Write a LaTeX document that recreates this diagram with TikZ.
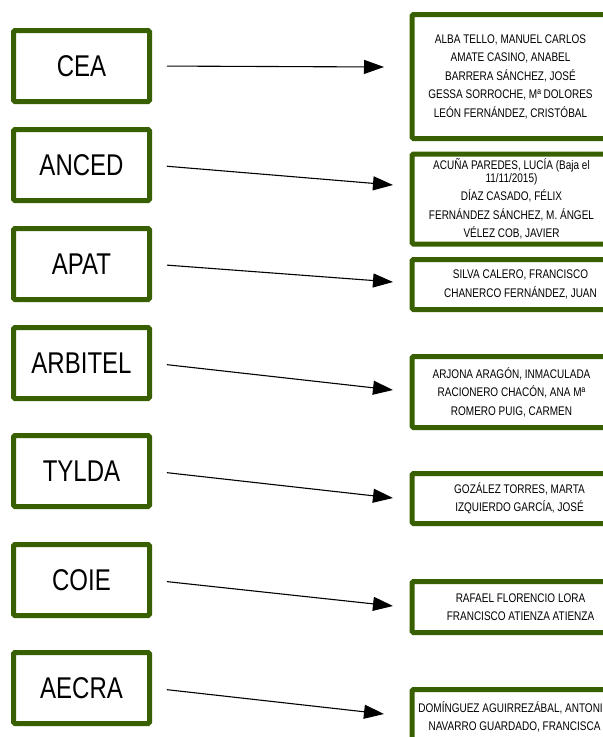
\documentclass[tikz,border=0pt]{standalone}
\usepackage{fontspec}
\setmainfont{Liberation Sans}[FakeStretch=0.8]
\usetikzlibrary{arrows.meta}
\definecolor{leaf}{RGB}{56, 96, 0}

\begin{document}
\begin{tikzpicture}[x=1pt, y=-1pt,
  group/.style={draw=leaf, line width=5pt, rounded corners=1.5pt,
    minimum width=136pt, minimum height=71pt, font=\fontsize{30}{30}\selectfont},
  members/.style={draw=leaf, line width=5pt, rounded corners=1.5pt, align=center,
    anchor=north west, inner sep=0pt, font=\fontsize{12.5}{18.5}\selectfont},
  link/.style={-{Triangle[length=20pt, width=14pt]}, line width=1.1pt}]

  \useasboundingbox (0, 0) rectangle (603, 737);

  % asociaciones
  \node[group] (cea) at (81.5, 66) {CEA};
  \node[group] (anced) at (81.5, 165) {ANCED};
  \node[group] (apat) at (81.5, 264) {APAT};
  \node[group] (arbitel) at (81.5, 363) {ARBITEL};
  \node[group] (tylda) at (81.5, 471) {TYLDA};
  \node[group] (coie) at (81.5, 580) {COIE};
  \node[group] (aecra) at (81.5, 688) {AECRA};

  % representantes
  \node[members, minimum width=197pt, minimum height=124pt] (cealist) at (409.5, 12)
    {ALBA TELLO, MANUEL CARLOS\\AMATE CASINO, ANABEL\\BARRERA SÁNCHEZ, JOSÉ\\
     GESSA SORROCHE, Mª DOLORES\\LEÓN FERNÁNDEZ, CRISTÓBAL};
  \node[members, minimum width=199pt, minimum height=90pt] (ancedlist) at (409.5, 151.5)
    {ACUÑA PAREDES, LUCÍA (Baja el\\[-5.5pt]11/11/2015)\\DÍAZ CASADO, FÉLIX\\
     FERNÁNDEZ SÁNCHEZ, M. ÁNGEL\\VÉLEZ COB, JAVIER};
  \node[members, minimum width=217pt, minimum height=50pt] (apatlist) at (409.5, 257)
    {SILVA CALERO, FRANCISCO\\CHANERCO FERNÁNDEZ, JUAN};
  \node[members, minimum width=199pt, minimum height=71pt] (arbitellist) at (409.5, 354)
    {ARJONA ARAGÓN, INMACULADA\\RACIONERO CHACÓN, ANA Mª\\ROMERO PUIG, CARMEN};
  \node[members, minimum width=215pt, minimum height=50pt] (tyldalist) at (409.5, 471)
    {GOZÁLEZ TORRES, MARTA\\IZQUIERDO GARCÍA, JOSÉ};
  \node[members, minimum width=217pt, minimum height=51pt] (coielist) at (409.5, 579)
    {RAFAEL FLORENCIO LORA\\FRANCISCO ATIENZA ATIENZA};
  \node[members, minimum width=205pt, minimum height=55pt] (aecralist) at (409.5, 687)
    {DOMÍNGUEZ AGUIRREZÁBAL, ANTONIO\\NAVARRO GUARDADO, FRANCISCA};

  % flechas
  \coordinate (ceaend) at (384, 67);
  \coordinate (ancedend) at (393, 185);
  \coordinate (apatend) at (393, 282);
  \coordinate (arbitelend) at (393, 390);
  \coordinate (tyldaend) at (393, 498);
  \coordinate (coieend) at (393, 606);
  \coordinate (aecraend) at (384, 714);
  \foreach \g in {cea, anced, apat, arbitel, tylda, coie, aecra}
    \draw[link, shorten <=15pt] (\g.east) -- (\g end);

\end{tikzpicture}
\end{document}
